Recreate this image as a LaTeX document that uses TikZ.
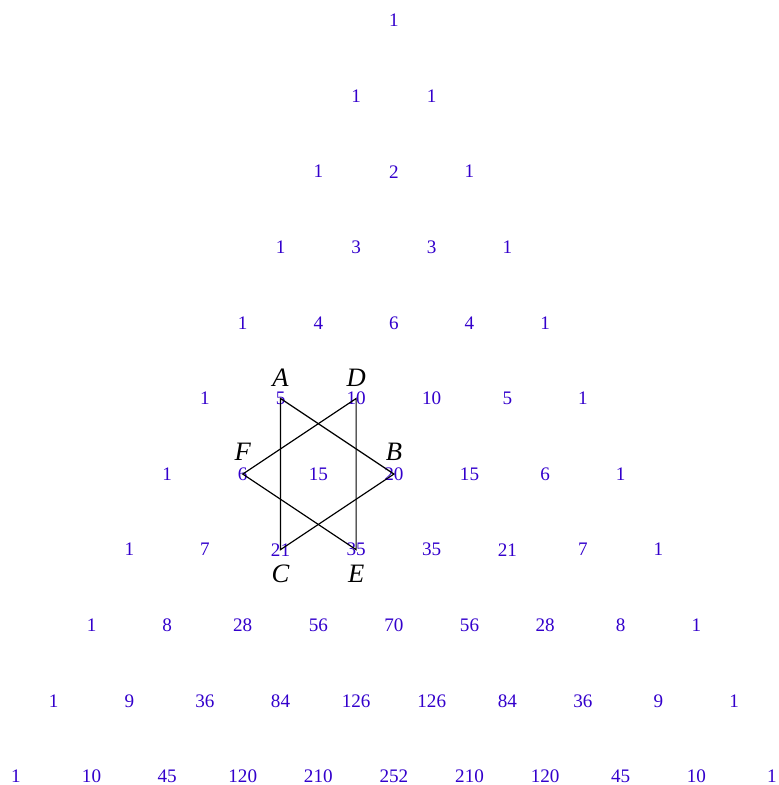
\documentclass[tikz,border=0pt]{standalone}
\usepackage{fontspec}
\setmainfont{Liberation Serif}
\definecolor{numblue}{RGB}{51,0,204}
\begin{document}
\begin{tikzpicture}[
  num/.style={text=numblue, font=\fontsize{7.2}{8}\selectfont, inner sep=0pt},
  lab/.style={font=\fontsize{10}{12}\selectfont\itshape, inner sep=0pt},
  hex/.style={line width=0.45pt, black}]
\useasboundingbox (-5.211,0.271) rectangle (5.093,-10.113);
\foreach \n/\vals in {0/{1},1/{1,1},2/{1,2,1},3/{1,3,3,1},4/{1,4,6,4,1},
  5/{1,5,10,10,5,1},6/{1,6,15,20,15,6,1},7/{1,7,21,35,35,21,7,1},
  8/{1,8,28,56,70,56,28,8,1},9/{1,9,36,84,126,126,84,36,9,1},
  10/{1,10,45,120,210,252,210,120,45,10,1}}{
  \foreach \v [count=\k from 0] in \vals {
    \node[num] (n\n-\k) at ({\k-\n/2},-\n) {\v};
  }
}
\draw[hex] (n5-1.center) -- (n6-3.center) -- (n7-2.center) -- cycle;
\draw[hex] (n5-2.center) -- (n7-3.center) -- (n6-1.center) -- cycle;
\node[lab] (la) at ([yshift=0.275cm]n5-1.center) {A};
\node[lab] (ld) at ([yshift=0.275cm]n5-2.center) {D};
\node[lab] (lf) at ([yshift=0.29cm]n6-1.center) {F};
\node[lab] (lb) at ([yshift=0.29cm]n6-3.center) {B};
\node[lab] (lc) at ([yshift=-0.32cm]n7-2.center) {C};
\node[lab] (le) at ([yshift=-0.32cm]n7-3.center) {E};
\end{tikzpicture}
\end{document}
